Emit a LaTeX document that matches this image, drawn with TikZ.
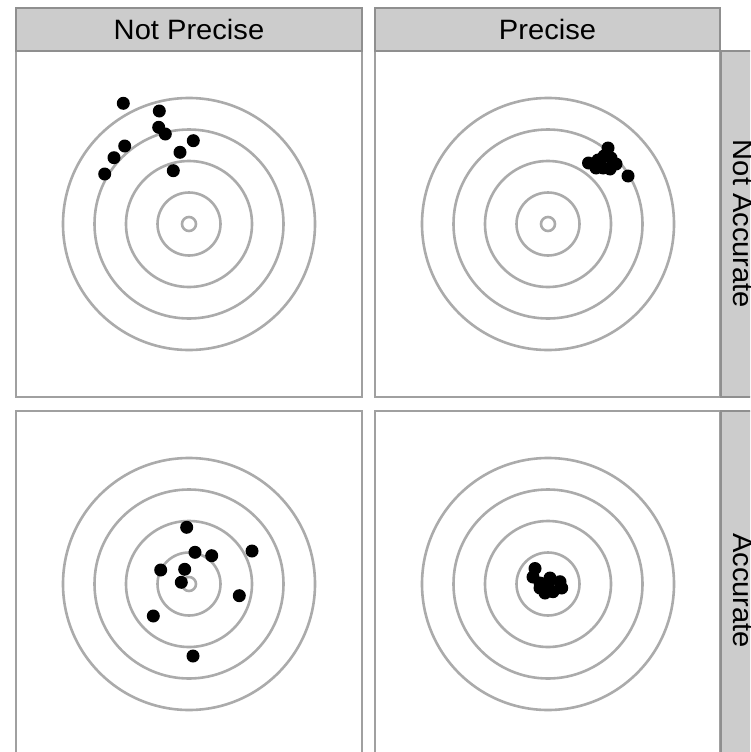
\documentclass[tikz,border=0pt]{standalone}
\usepackage{fontspec}
\setmainfont{Liberation Sans}
\definecolor{ringc}{HTML}{ABABAB}
\definecolor{borderc}{HTML}{A0A0A0}
\definecolor{stripfill}{HTML}{CCCCCC}
\definecolor{stripborder}{HTML}{8F8F8F}
\begin{document}
\begin{tikzpicture}[x=1pt,y=-1pt,
  panelbox/.style={draw=borderc,line width=1.5pt,fill=white},
  strip/.style={draw=stripborder,line width=1.5pt,fill=stripfill,inner sep=0pt,
    font=\fontsize{28}{28}\selectfont,text=black},
  ring/.style={draw=ringc,line width=2.6pt},
  dot/.style={fill=black}]
\useasboundingbox (0,0) rectangle (750,752);
\clip (0,0) rectangle (750,752);
% panels
\draw[panelbox] (16,51) rectangle (362,397);
\draw[panelbox] (375,51) rectangle (720,397);
\draw[panelbox] (16,411) rectangle (362,770);
\draw[panelbox] (375,411) rectangle (720,770);
% strips
\node[strip,minimum width=346pt,minimum height=43pt] (s1) at (189,29.5) {\scalebox{1.04}[1]{Not Precise}};
\node[strip,minimum width=345pt,minimum height=43pt] (s2) at (547.5,29.5) {\scalebox{1.04}[1]{Precise}};
\node[strip,minimum width=346pt,minimum height=44pt,rotate=-90] (s3) at (743,224) {\scalebox{1.04}[1]{Not Accurate}};
\node[strip,minimum width=359pt,minimum height=44pt,rotate=-90] (s4) at (743,590.5) {\scalebox{1.04}[1]{Accurate}};
\begin{scope}[yshift=-3pt]\end{scope}
% targets
\foreach \cx/\cy in {189/224,548/224,189/584,548/584}{
  \foreach \r in {7,31.5,63,94.5,126}{
    \draw[ring] (\cx,\cy) circle (\r);
  }
}
% panel 1 dots
\foreach \px/\py in {123.3/103.3,159.3/111,158.7/127.3,165.3/134,193.3/140.7,180/152.3,124.7/146,114/157.7,104.7/174,173.3/170.7}{
  \fill[dot] (\px,\py) circle (6.5);
}
% panel 2 dots
\foreach \px/\py in {608/148,588.5/163,628/176,616/164,604/156,611/158,596/168,603/168,610/169,598/160}{
  \fill[dot] (\px,\py) circle (6.5);
}
% panel 3 dots
\foreach \px/\py in {186.7/527.3,195/552.3,211.7/555.7,252/551,160.7/570,184.7/569.3,181.3/582.3,239.3/595.7,153.3/616,193/656}{
  \fill[dot] (\px,\py) circle (6.5);
}
% panel 4 dots
\foreach \px/\py in {535/568.5,533/577,540/583,550/578,560/581.7,561.7/588,553/591.7,545/593,540/588,548/585}{
  \fill[dot] (\px,\py) circle (6.5);
}
\end{tikzpicture}
\end{document}
